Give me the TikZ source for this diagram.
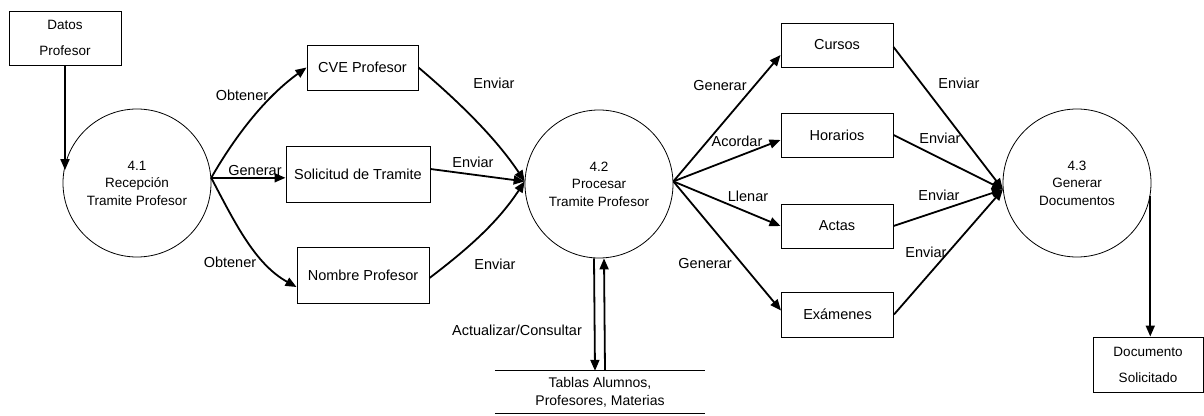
\documentclass[tikz,border=0pt]{standalone}
\usepackage{fontspec}
\setmainfont{Liberation Sans}
\usetikzlibrary{arrows.meta}
\begin{document}
\begin{tikzpicture}[x=1pt,y=-1pt,
  proc/.style={circle,draw,line width=0.8pt,minimum size=148pt,inner sep=0pt,
    align=center,font=\fontsize{13.5}{17.5}\selectfont},
  ent/.style={draw,line width=1pt,inner sep=0pt,align=center,
    font=\fontsize{13.5}{26}\selectfont},
  item/.style={draw,line width=1pt,inner sep=0pt,align=center,
    minimum height=44pt,font=\fontsize{14.5}{16}\selectfont},
  flow/.style={line width=1.8pt,-{Triangle[length=11pt,width=9pt]}},
  lab/.style={inner sep=0pt,font=\fontsize{14.5}{16}\selectfont}]
\useasboundingbox (0,0) rectangle (1204,415);

% processes
\node[proc] (c1) at (137,183) {4.1\\Recepción\\Tramite Profesor};
\node[proc] (c2) at (599,184) {4.2\\Procesar\\Tramite Profesor};
\node[proc] (c3) at (1077,183) {4.3\\Generar\\Documentos};

% external entities
\node[ent,minimum width=112pt,minimum height=54pt] (dat) at (65,38) {Datos\\Profesor};
\node[ent,minimum width=110pt,minimum height=55pt] (doc) at (1148,364.5) {Documento\\Solicitado};

% intermediate data
\node[item,minimum width=111pt,minimum height=45pt] (cve) at (362.5,67.5) {CVE Profesor};
\node[item,minimum width=144pt,minimum height=56pt] (sol) at (358,174) {Solicitud de Tramite};
\node[item,minimum width=132pt,minimum height=56pt] (nom) at (363,275) {Nombre Profesor};

\node[item,minimum width=112pt] (cur) at (837,45) {Cursos};
\node[item,minimum width=112pt] (hor) at (837,135) {Horarios};
\node[item,minimum width=112pt] (act) at (837,226) {Actas};
\node[item,minimum width=112pt,minimum height=45pt] (exa) at (837.5,314.5) {Exámenes};

% data store
\node[inner sep=0pt,minimum width=210pt,minimum height=42pt,align=center,
  font=\fontsize{14}{18}\selectfont] (sto) at (600,392) {Tablas Alumnos,\\Profesores, Materias};
\draw[line width=1pt] (sto.north west) -- (sto.north east);
\draw[line width=1pt] (sto.south west) -- (sto.south east);

% junction points on the process borders
\coordinate (j1) at (c1.4);
\coordinate (j2) at (c2.178);
\coordinate (f2) at (c2.2);
\coordinate (j3) at (c3.185);

% flows
\draw[flow] (dat.south) -- (dat.south |- c1.170);
\draw[flow] (j1) .. controls (237,133) and (267,96) .. (cve.west);
\draw[flow] (j1) -- (j1 -| sol.west);
\draw[flow] (j1) .. controls (235,223) and (255,264) .. ([yshift=-12pt]nom.west);

\draw[flow] (cve.east) .. controls (458,101) and (496,138) .. (j2);
\draw[flow] ([yshift=5pt]sol.east) -- (j2);
\draw[flow] ([yshift=-3pt]nom.east) .. controls (469,248) and (498,222) .. (j2);

\draw[flow] (f2) -- ([yshift=-10pt]cur.west);
\draw[flow] (f2) -- ([yshift=-5pt]hor.west);
\draw[flow] (f2) -- (act.west);
\draw[flow] (f2) -- ([yshift=4pt]exa.west);

\draw[flow] ([yshift=-2pt]cur.east) -- (j3);
\draw[flow] (hor.east) -- (j3);
\draw[flow] (act.east) -- (j3);
\draw[flow] (exa.east) -- (j3);

\draw[flow] (c3.-10) -- (c3.-10 |- doc.north);

\draw[flow] ([xshift=-5pt]c2.south) -- ([xshift=-5pt]sto.north);
\draw[flow] ([xshift=5pt]sto.north) -- ([xshift=5pt]c2.south);

% flow labels
\node[lab] (l1) at (242,95) {Obtener};
\node[lab] (l2) at (255,171) {Generar};
\node[lab] (l3) at (230,262) {Obtener};
\node[lab] (l4) at (494,83) {Enviar};
\node[lab] (l5) at (473,162) {Enviar};
\node[lab] (l6) at (495,264) {Enviar};
\node[lab] (l7) at (517,330) {Actualizar/Consultar};
\node[lab] (l8) at (720,86) {Generar};
\node[lab] (l9) at (737,141) {Acordar};
\node[lab] (l10) at (748,196) {Llenar};
\node[lab] (l11) at (705,264) {Generar};
\node[lab] (l12) at (959,83) {Enviar};
\node[lab] (l13) at (940,138) {Enviar};
\node[lab] (l14) at (939,195) {Enviar};
\node[lab] (l15) at (926,252) {Enviar};
\end{tikzpicture}
\end{document}
